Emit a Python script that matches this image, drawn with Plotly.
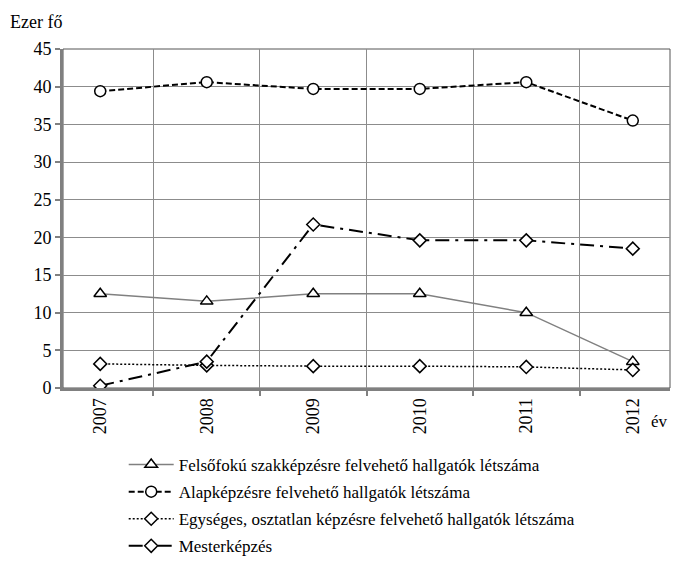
import plotly.graph_objects as go

# Data (thousand persons)
years = ["2007", "2008", "2009", "2010", "2011", "2012"]
felsofoku = [12.5, 11.5, 12.5, 12.5, 10.0, 3.5]
alapkepzes = [39.4, 40.6, 39.7, 39.7, 40.6, 35.5]
egyseges = [3.2, 3.0, 2.9, 2.9, 2.8, 2.4]
mesterkepzes = [0.3, 3.5, 21.7, 19.6, 19.6, 18.5]

names = [
    "Felsőfokú szakképzésre felvehető hallgatók létszáma",
    "Alapképzésre felvehető hallgatók létszáma",
    "Egységes, osztatlan képzésre felvehető hallgatók létszáma",
    "Mesterképzés",
]

FONT = "Times New Roman"
GRID = "#8c8c8c"

fig = go.Figure()

fig.add_trace(go.Scatter(
    x=years, y=felsofoku, name=names[0], mode="lines+markers",
    line=dict(color="#808080", width=1.5),
    marker=dict(symbol="triangle-up", size=11, color="white",
                line=dict(color="black", width=1.5)),
    legendgroup="a",
))
fig.add_trace(go.Scatter(
    x=years, y=alapkepzes, name=names[1], mode="lines+markers",
    line=dict(color="black", width=2, dash="6px,3px"),
    marker=dict(symbol="circle", size=11, color="white",
                line=dict(color="black", width=1.5)),
    legendgroup="b",
))
fig.add_trace(go.Scatter(
    x=years, y=egyseges, name=names[2], mode="lines+markers",
    line=dict(color="black", width=1.5, dash="2px,2px"),
    marker=dict(symbol="diamond", size=10, color="white",
                line=dict(color="black", width=1.5)),
    legendgroup="c",
))
fig.add_trace(go.Scatter(
    x=years, y=mesterkepzes, name=names[3], mode="lines+markers",
    line=dict(color="black", width=2, dash="14px,6px,3px,6px"),
    marker=dict(symbol="diamond", size=10, color="white",
                line=dict(color="black", width=1.5)),
    legendgroup="d",
))

# thin frame around the plot area
fig.add_shape(type="rect", xref="paper", yref="paper", x0=0, y0=0, x1=1, y1=1,
              line=dict(color="#555555", width=1), layer="below")

fig.add_annotation(text="Ezer fő", xref="paper", yref="paper", x=-0.0906, y=1.08,
                   xanchor="left", yanchor="middle", showarrow=False,
                   font=dict(family=FONT, size=18, color="black"))
fig.add_annotation(text="év", xref="paper", yref="paper", x=0.982, y=-0.1,
                   xanchor="center", yanchor="middle", showarrow=False,
                   font=dict(family=FONT, size=17, color="black"))

fig.update_xaxes(
    type="category", tickson="boundaries", tickangle=-90,
    showgrid=True, gridcolor=GRID, gridwidth=1,
    showline=True, linecolor="#808080", linewidth=3,
    ticks="outside", ticklen=5, tickcolor="#808080", tickwidth=2,
    tickfont=dict(family=FONT, size=18, color="black"),
)
fig.update_yaxes(
    range=[0, 45], dtick=5,
    showgrid=True, gridcolor=GRID, gridwidth=1, zeroline=False,
    showline=True, linecolor="#808080", linewidth=3,
    ticks="outside", ticklen=5, tickcolor="#808080", tickwidth=2,
    tickfont=dict(family=FONT, size=18, color="black"),
)

fig.update_layout(
    width=680, height=564,
    # page body adds an 8px offset, so margins are shifted by 8px
    margin=dict(l=55, r=18, t=41, b=184, autoexpand=False),
    paper_bgcolor="white", plot_bgcolor="white",
    font=dict(family=FONT, size=17, color="black"),
    legend=dict(
        orientation="v", x=0.1, y=-0.174, xanchor="left", yanchor="top",
        itemwidth=45, tracegroupgap=2,
        font=dict(family=FONT, size=17, color="black"),
        bgcolor="rgba(0,0,0,0)",
    ),
    showlegend=True,
)

fig.write_html("out.html")
